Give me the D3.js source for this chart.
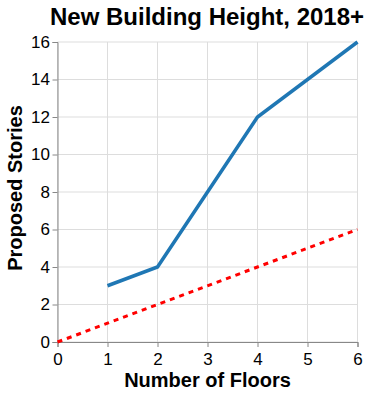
<!DOCTYPE html>
<html><head><meta charset="utf-8">
<script src="https://cdn.jsdelivr.net/npm/d3@7"></script>
<style>body{margin:0;background:#fff}svg{display:block}text{font-family:"Liberation Sans",Arial,Helvetica,sans-serif}</style>
</head><body><svg id="c" width="370" height="396"></svg>
<script>
const floors = [1, 2, 4, 6];
const stories = [3, 4, 12, 16];
const refFloors = [0, 6];
const refStories = [0, 6];
const xTicks = [0, 1, 2, 3, 4, 5, 6];
const yTicks = [0, 2, 4, 6, 8, 10, 12, 14, 16];
const title = "New Building Height, 2018+";
const xTitle = "Number of Floors";
const yTitle = "Proposed Stories";

const svg = d3.select("#c");
const m = {l: 57.5, t: 42, w: 300, h: 300};
const x = d3.scaleLinear().domain([0, 6]).range([m.l, m.l + m.w]);
const y = d3.scaleLinear().domain([0, 16]).range([m.t + m.h, m.t]);

// grid
svg.append("g").selectAll("line").data(xTicks).join("line")
  .attr("x1", d => x(d)).attr("x2", d => x(d)).attr("y1", m.t).attr("y2", m.t + m.h)
  .attr("stroke", "#ddd").attr("stroke-width", 1);
svg.append("g").selectAll("line").data(yTicks).join("line")
  .attr("y1", d => y(d)).attr("y2", d => y(d)).attr("x1", m.l).attr("x2", m.l + m.w)
  .attr("stroke", "#ddd").attr("stroke-width", 1);

// axes
const xa = svg.append("g").attr("transform", `translate(0,${m.t + m.h})`)
  .call(d3.axisBottom(x).tickValues(xTicks).tickSize(5).tickPadding(6).tickFormat(d3.format("d")));
const ya = svg.append("g").attr("transform", `translate(${m.l},0)`)
  .call(d3.axisLeft(y).tickValues(yTicks).tickSize(5).tickPadding(2.5).tickFormat(d3.format("d")));
[xa, ya].forEach(a => {
  a.attr("font-size", null).attr("font-family", null);
  a.selectAll("path,line").attr("stroke", "#888");
  a.selectAll("text").style("font-size", "17px").attr("fill", "#000")
    .style("font-family", '"Liberation Sans",Arial,sans-serif');
});

// lines
const ln = d3.line().x(d => x(d[0])).y(d => y(d[1]));
svg.append("path").datum(refFloors.map((f, i) => [f, refStories[i]]))
  .attr("d", ln).attr("fill", "none").attr("stroke", "#ff0000")
  .attr("stroke-width", 3).attr("stroke-dasharray", "5,5");
svg.append("path").datum(floors.map((f, i) => [f, stories[i]]))
  .attr("d", ln).attr("fill", "none").attr("stroke", "#1f77b4")
  .attr("stroke-width", 3.5);

// titles
svg.append("text").attr("x", 207).attr("y", 25).attr("text-anchor", "middle")
  .style("font-size", "24px").attr("font-weight", "bold").text(title);
svg.append("text").attr("x", m.l + m.w / 2).attr("y", 387).attr("text-anchor", "middle")
  .style("font-size", "20px").attr("font-weight", "bold").text(xTitle);
svg.append("text").attr("transform", `translate(22,${m.t + m.h / 2 - 4}) rotate(-90)`)
  .attr("text-anchor", "middle").style("font-size", "20px").attr("font-weight", "bold").text(yTitle);
</script></body></html>
